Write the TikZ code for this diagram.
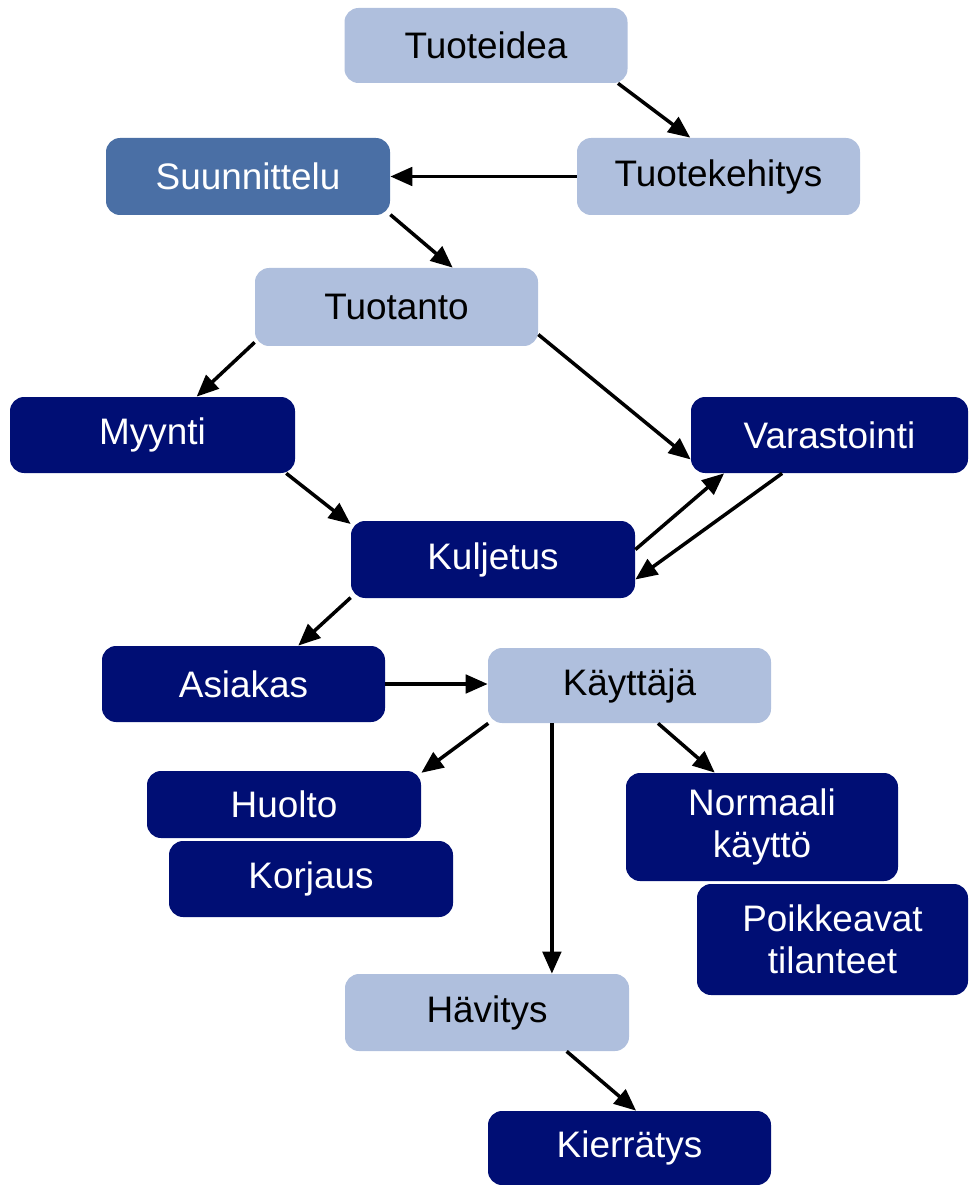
\documentclass[tikz,border=0pt]{standalone}
\usepackage{fontspec}
\setmainfont{Liberation Sans}
\usetikzlibrary{arrows.meta, shapes}

\definecolor{vaalea}{RGB}{175,191,221}
\definecolor{keski}{RGB}{74,111,165}
\definecolor{tumma}{RGB}{0,14,116}

\newdimen\px
\px=0.02cm

\tikzset{
	laatikko/.style={rectangle, rounded corners=8pt, inner sep=0pt, align=center, minimum width=283\px, minimum height=77\px},
	vaaleabox/.style={laatikko, fill=vaalea, text=black},
	keskibox/.style={laatikko, fill=keski, text=white},
	tummabox/.style={laatikko, fill=tumma, text=white},
	nuoli/.style={-{Triangle[length=12.5pt, width=10.5pt]}, line width=2pt}
}

\begin{document}
\begin{tikzpicture}[x=0.02cm, y=0.02cm, font=\fontsize{21}{24}\selectfont]
	\useasboundingbox (0,0) rectangle (968,-1185);

	% boxes
	\node[vaaleabox, minimum height=75\px] (idea) at (486,-45.5) {Tuoteidea};
	\node[vaaleabox] (kehitys) at (718.5,-176.5) {Tuotekehitys};
	\node[keskibox, minimum width=284\px] (suunn) at (248,-176.5) {Suunnittelu};
	\node[vaaleabox, minimum height=78\px] (tuotanto) at (396.5,-307) {Tuotanto};
	\node[tummabox, minimum width=285\px, minimum height=76\px] (myynti) at (152.5,-435) {Myynti};
	\node[tummabox, minimum width=277\px, minimum height=76\px] (varasto) at (829.5,-435) {Varastointi};
	\node[tummabox, minimum width=284\px] (kuljetus) at (493,-559.5) {Kuljetus};
	\node[tummabox, minimum height=76\px] (asiakas) at (243.5,-684) {Asiakas};
	\node[vaaleabox, minimum height=75\px] (kayttaja) at (629.5,-685.5) {Käyttäjä};
	\node[tummabox, minimum width=274\px, minimum height=67\px] (huolto) at (284,-804.5) {Huolto};
	\node[tummabox, minimum width=284\px, minimum height=76\px] (korjaus) at (311,-879) {Korjaus};
	\node[tummabox, minimum width=272\px, minimum height=108\px] (normaali) at (762,-827) {Normaali\\käyttö};
	\node[tummabox, minimum width=271\px, minimum height=111\px] (poikkeavat) at (832.5,-939.5) {Poikkeavat\\tilanteet};
	\node[vaaleabox, minimum width=284\px] (havitys) at (487,-1012.5) {Hävitys};
	\node[tummabox, minimum height=74\px] (kierratys) at (629.5,-1148) {Kierrätys};

	% arrows
	\draw[nuoli] (idea.-16.5) -- (kehitys.126.5);
	\draw[nuoli] (kehitys.west) -- (suunn.east);
	\draw[nuoli] (suunn.-15.9) -- (tuotanto.35);
	\draw[nuoli] (tuotanto.194.2) -- (myynti.41.8);
	\draw[nuoli] (tuotanto.-11.2) -- (varasto.190.2);
	\draw[nuoli] (myynti.-16) -- (kuljetus.166.7);
	\draw[nuoli] (kuljetus.4.6) -- (varasto.200.5);
	\draw[nuoli] (varasto.219.3) -- (kuljetus.-8.2);
	\draw[nuoli] (kuljetus.195.8) -- (asiakas.35.9);
	\draw[nuoli] (asiakas.east) -- (asiakas.east -| kayttaja.west);
	\draw[nuoli] (kayttaja.195.4) -- (huolto.13.7);
	\draw[nuoli] (kayttaja.206.1) -- (havitys.north -| kayttaja.206.1);
	\draw[nuoli] (kayttaja.-53.7) -- (normaali.131);
	\draw[nuoli] (havitys.-26.9) -- (kierratys.80);
\end{tikzpicture}
\end{document}
